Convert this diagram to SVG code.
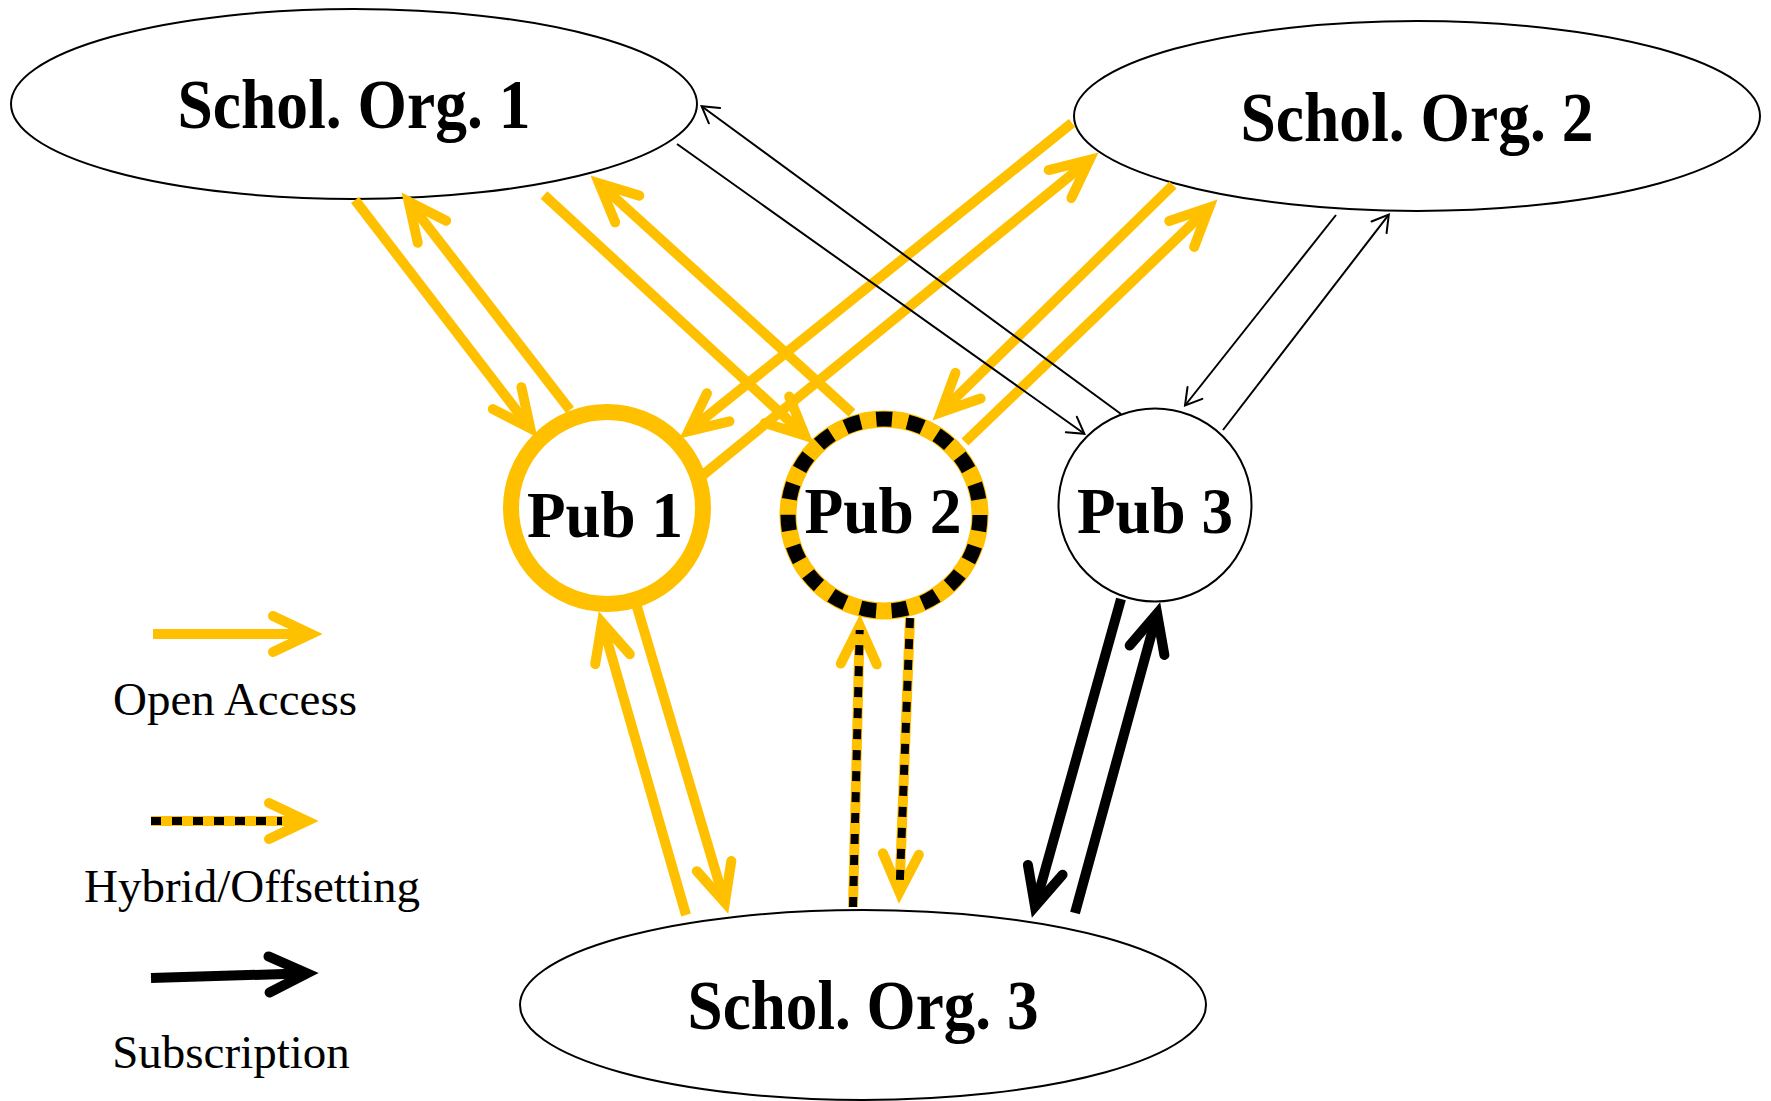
<svg xmlns="http://www.w3.org/2000/svg" width="1771" height="1101" viewBox="0 0 1771 1101">
<style>
.org{fill:#fff;stroke:#000;stroke-width:2}
.lbl{font-family:"Liberation Serif","Times New Roman",serif;font-weight:bold;font-size:66px;fill:#000;text-anchor:middle}
.big{font-size:70px}
.leg{font-family:"Liberation Serif","Times New Roman",serif;font-size:47px;fill:#000;text-anchor:middle}
.oa{fill:none;stroke:#FFC000;stroke-width:10;marker-end:url(#ah-y)}
.hy{fill:none;stroke:#FFC000;stroke-width:10;marker-end:url(#ah-y)}
.hyd{fill:none;stroke:#000;stroke-width:8;stroke-dasharray:10 11}
.sub{fill:none;stroke:#000;stroke-width:10;marker-end:url(#ah-b)}
.thin{fill:none;stroke:#000;stroke-width:2;marker-end:url(#ah-t)}
</style>
<defs>
<marker id="ah-y" markerUnits="userSpaceOnUse" orient="auto" overflow="visible" refX="0" refY="0" markerWidth="1" markerHeight="1">
<path d="M-38,-18 L0,0 L-38,18" fill="none" stroke="#FFC000" stroke-width="10" stroke-linecap="round" stroke-linejoin="miter"/>
</marker>
<marker id="ah-b" markerUnits="userSpaceOnUse" orient="auto" overflow="visible" refX="0" refY="0" markerWidth="1" markerHeight="1">
<path d="M-38,-18 L0,0 L-38,18" fill="none" stroke="#000" stroke-width="10" stroke-linecap="round" stroke-linejoin="miter"/>
</marker>
<marker id="ah-t" markerUnits="userSpaceOnUse" orient="auto" overflow="visible" refX="0" refY="0" markerWidth="1" markerHeight="1">
<path d="M-16,-9.5 L0,0 L-16,9.5" fill="none" stroke="#000" stroke-width="2" stroke-linecap="round" stroke-linejoin="miter"/>
</marker>
</defs>
<rect width="1771" height="1101" fill="#fff"/>

<g id="org1">
<ellipse class="org" cx="354" cy="104" rx="343" ry="95"/>
<text class="lbl big" x="354" y="128" textLength="353" lengthAdjust="spacingAndGlyphs">Schol. Org. 1</text>
</g>
<g id="org2">
<ellipse class="org" cx="1417" cy="116" rx="343" ry="95"/>
<text class="lbl big" x="1417" y="141" textLength="353" lengthAdjust="spacingAndGlyphs">Schol. Org. 2</text>
</g>
<g id="org3">
<ellipse class="org" cx="863" cy="1005" rx="343" ry="95"/>
<text class="lbl big" x="863" y="1029" textLength="351" lengthAdjust="spacingAndGlyphs">Schol. Org. 3</text>
</g>
<g id="pub1">
<circle cx="607" cy="508" r="96" fill="#fff" stroke="#FFC000" stroke-width="16"/>
<text class="lbl" x="605" y="537" textLength="156" lengthAdjust="spacingAndGlyphs">Pub 1</text>
</g>
<g id="pub2">
<circle cx="884" cy="515" r="96" fill="#fff" stroke="#FFC000" stroke-width="17"/>
<circle cx="884" cy="515" r="96" fill="none" stroke="#000" stroke-width="15" stroke-dasharray="16 15.7"/>
<text class="lbl" x="883" y="533" textLength="157" lengthAdjust="spacingAndGlyphs">Pub 2</text>
</g>
<g id="pub3">
<circle cx="1155" cy="505" r="96.5" fill="#fff" stroke="#000" stroke-width="2"/>
<text class="lbl" x="1155" y="533" textLength="156" lengthAdjust="spacingAndGlyphs">Pub 3</text>
</g>

<g id="connectors">
<path class="oa" d="M355,200 L530.3,428.3"/>
<path class="oa" d="M570,410 L408.7,201.7"/>
<path class="oa" d="M544,195 L805,435.5"/>
<path class="oa" d="M852,413 L599.1,183.4"/>
<path class="oa" d="M1072,123 L688.6,431.1"/>
<path class="oa" d="M703,475 L1089.5,160"/>
<path class="oa" d="M1173,185 L940.9,412.3"/>
<path class="oa" d="M965,442 L1209.1,207.6"/>
<path class="oa" d="M637,607 L724.9,902.5"/>
<path class="oa" d="M686,915 L602,622.6"/>
<path class="hy" d="M853,907 L859.7,626"/>
<path class="hyd" d="M853,907 L859.7,630"/>
<path class="hy" d="M910,618 L899.4,892"/>
<path class="hyd" d="M910,618 L899.6,888"/>
<path class="thin" d="M1121,414 L701.6,106.2"/>
<path class="thin" d="M677,144 L1084.4,433.8"/>
<path class="thin" d="M1336,215 L1185,405.5"/>
<path class="thin" d="M1223,430 L1388.8,214.6"/>
<path class="sub" d="M1121,599 L1035,906.4"/>
<path class="sub" d="M1075,913 L1157.1,613.6"/>
</g>

<g id="legend">
<path class="oa" d="M153,634 L311,634"/>
<text class="leg" x="235" y="715">Open Access</text>
<path class="hy" d="M151,821 L307,821"/>
<path class="hyd" d="M151,821 L282,821" stroke-dasharray="9.5 11.5"/>
<text class="leg" x="252" y="902">Hybrid/Offsetting</text>
<path class="sub" d="M151,978 L307,973.3"/>
<text class="leg" x="231" y="1068">Subscription</text>
</g>
</svg>
